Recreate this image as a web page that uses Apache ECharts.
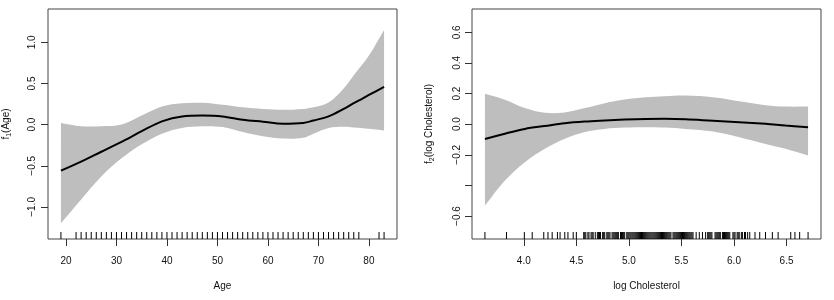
<!DOCTYPE html>
<html><head><meta charset="utf-8">
<script src="https://cdn.jsdelivr.net/npm/echarts@6/dist/echarts.min.js"></script>
<style>html,body{margin:0;padding:0;background:#fff}#c{width:834px;height:300px}</style>
</head><body><div id="c"></div>
<script>
// ---- Panel 1: Age ----
const ageX     = [19, 23, 27, 31, 35, 39, 43, 47, 51, 55, 59, 63, 67, 69, 72, 75, 77, 80, 83];
const ageFit   = [-0.56, -0.45, -0.33, -0.21, -0.08, 0.04, 0.10, 0.11, 0.10, 0.06, 0.035, 0.01, 0.02, 0.05, 0.10, 0.19, 0.26, 0.36, 0.46];
const ageUpper = [0.02, -0.02, -0.02, 0.00, 0.11, 0.22, 0.26, 0.265, 0.24, 0.21, 0.19, 0.18, 0.19, 0.21, 0.27, 0.44, 0.60, 0.84, 1.15];
const ageLower = [-1.20, -0.91, -0.63, -0.41, -0.24, -0.11, -0.04, -0.02, -0.03, -0.09, -0.14, -0.17, -0.16, -0.11, -0.04, -0.025, -0.035, -0.05, -0.07];
const ageRug   = [19, 22, 23, 24, 25, 26, 27, 28, 29, 30, 31, 32, 33, 34, 35, 36, 37, 38, 39, 40,
                  41, 42, 43, 44, 45, 46, 47, 48, 49, 50, 51, 52, 53, 54, 55, 56, 57, 58, 59, 60,
                  61, 62, 63, 64, 65, 66, 67, 68, 69, 70, 71, 72, 73, 74, 75, 76, 77, 78, 82, 83];
const ageXTicks = [20, 30, 40, 50, 60, 70, 80];
const ageYTicks = [-1.0, -0.5, 0.0, 0.5, 1.0];

// ---- Panel 2: log Cholesterol ----
const cholX     = [3.63, 3.82, 4.01, 4.20, 4.39, 4.58, 4.77, 4.96, 5.16, 5.34, 5.54, 5.80, 6.05, 6.30, 6.49, 6.705];
const cholFit   = [-0.097, -0.063, -0.031, -0.012, 0.006, 0.017, 0.024, 0.030, 0.034, 0.035, 0.032, 0.022, 0.013, 0.002, -0.009, -0.02];
const cholUpper = [0.198, 0.160, 0.105, 0.074, 0.076, 0.105, 0.137, 0.161, 0.176, 0.183, 0.187, 0.176, 0.150, 0.124, 0.115, 0.115];
const cholLower = [-0.532, -0.368, -0.248, -0.161, -0.096, -0.052, -0.031, -0.022, -0.02, -0.022, -0.031, -0.048, -0.085, -0.129, -0.161, -0.205];
const cholRug   = [3.63, 3.835, 4.005, 4.08, 4.19, 4.23, 4.27, 4.32, 4.345, 4.39, 4.42, 4.47, 4.50,
  4.57, 4.58, 4.59, 4.61, 4.62, 4.64, 4.65, 4.66, 4.68, 4.70, 4.71, 4.72, 4.73, 4.75, 4.76, 4.77, 4.79,
  4.80, 4.81, 4.82, 4.84, 4.85, 4.86, 4.87, 4.88, 4.89, 4.90, 4.92, 4.93, 4.94, 4.95, 4.96, 4.98, 4.99,
  5.00, 5.01, 5.02, 5.03, 5.04, 5.05, 5.06, 5.07, 5.08, 5.09, 5.10, 5.11, 5.12, 5.13, 5.14, 5.15, 5.16,
  5.17, 5.18, 5.19, 5.20, 5.21, 5.22, 5.23, 5.24, 5.25, 5.26, 5.27, 5.28, 5.29, 5.30, 5.31, 5.32, 5.33,
  5.34, 5.35, 5.36, 5.37, 5.38, 5.39, 5.40, 5.42, 5.43, 5.44, 5.45, 5.46, 5.47, 5.48, 5.49, 5.50, 5.51,
  5.52, 5.53, 5.54, 5.55, 5.56, 5.57, 5.58, 5.59, 5.60, 5.61, 5.64, 5.67, 5.70, 5.73, 5.75, 5.76, 5.77,
  5.78, 5.79, 5.82, 5.83, 5.84, 5.85, 5.86, 5.87, 5.89, 5.90, 5.91, 5.92, 5.93, 5.94, 5.95, 5.96, 5.99,
  6.00, 6.01, 6.03, 6.04, 6.05, 6.07, 6.08, 6.10, 6.11, 6.13, 6.15,
  6.20, 6.245, 6.30, 6.365, 6.42, 6.54, 6.58, 6.625, 6.705];
const cholXTicks = [4.0, 4.5, 5.0, 5.5, 6.0, 6.5];
const cholYTicks = [-0.6, -0.4, -0.2, 0.0, 0.2, 0.4, 0.6];
const cholYTicksUnlabelled = [-0.4];

const FONT = 'Liberation Sans, Arial, Helvetica, sans-serif';
const TXT = '#111';
const SMOOTH = 0.35;
const fmt1 = v => (v < 0 ? '\u2212' : '') + Math.abs(v).toFixed(1);

function xAxisDef(grid, min, max, ticks, name, intLabels) {
  return {
    type: 'value', gridIndex: grid, min, max,
    axisLine: {show: false, onZero: false}, splitLine: {show: false},
    axisTick: {show: true, inside: false, length: 7, customValues: ticks, lineStyle: {color: '#333', width: 1}},
    axisLabel: {customValues: ticks, margin: 17, fontSize: 10, fontFamily: FONT, color: TXT,
      formatter: v => intLabels ? String(Math.round(v)) : fmt1(v)},
    name, nameLocation: 'middle', nameGap: 42,
    nameTextStyle: {fontSize: 10, fontFamily: FONT, color: TXT}
  };
}
function yAxisDef(grid, min, max, ticks, hidden, nameRich, gap, margin) {
  return {
    type: 'value', gridIndex: grid, min, max,
    axisLine: {show: false, onZero: false}, splitLine: {show: false},
    axisTick: {show: true, inside: false, length: 7, customValues: ticks, lineStyle: {color: '#333', width: 1}},
    axisLabel: {customValues: ticks, rotate: 90, margin, fontSize: 10, fontFamily: FONT, color: TXT,
      formatter: v => hidden.some(h => Math.abs(h - v) < 1e-9) ? '' : fmt1(v)},
    name: nameRich, nameLocation: 'middle', nameGap: gap, nameRotate: 90,
    nameTextStyle: {fontSize: 10, fontFamily: FONT, color: TXT,
      rich: {a: {fontSize: 10, fontFamily: FONT, color: TXT, lineHeight: 13},
             s: {fontSize: 7, fontFamily: FONT, color: TXT, verticalAlign: 'bottom', lineHeight: 13}}}
  };
}
// Bezier control points in pixel space (same scheme as a smoothed line)
function bezierSegs(pts) {
  const n = pts.length, cps = [];
  for (let i = 0; i < n; i++) {
    const p = pts[i], pr = pts[Math.max(i - 1, 0)], nx = pts[Math.min(i + 1, n - 1)];
    const vx = (nx[0] - pr[0]) * SMOOTH, vy = (nx[1] - pr[1]) * SMOOTH;
    const d0 = Math.hypot(p[0] - pr[0], p[1] - pr[1]), d1 = Math.hypot(nx[0] - p[0], nx[1] - p[1]);
    const s = (d0 + d1) || 1;
    cps.push({a: [p[0] - vx * d0 / s, p[1] - vy * d0 / s], b: [p[0] + vx * d1 / s, p[1] + vy * d1 / s]});
  }
  let d = '';
  for (let i = 1; i < n; i++) {
    d += ' C' + cps[i - 1].b[0] + ' ' + cps[i - 1].b[1] + ' ' + cps[i].a[0] + ' ' + cps[i].a[1] + ' ' + pts[i][0] + ' ' + pts[i][1];
  }
  return d;
}
function bandSeries(idx, xs, lo, hi) {
  return {type: 'custom', xAxisIndex: idx, yAxisIndex: idx, silent: true, z: 1,
    data: [[xs[0], lo[0]]], encode: {x: 0, y: 1},
    renderItem: (params, api) => {
      const up = xs.map((x, i) => api.coord([x, hi[i]]));
      const dn = xs.map((x, i) => api.coord([x, lo[i]])).reverse();
      let d = 'M' + up[0][0] + ' ' + up[0][1] + bezierSegs(up);
      d += ' L' + dn[0][0] + ' ' + dn[0][1] + bezierSegs(dn) + ' Z';
      return {type: 'path', shape: {pathData: d}, style: {fill: '#bebebe', stroke: null}};
    }};
}
function fitSeries(idx, xs, ys) {
  return {type: 'line', xAxisIndex: idx, yAxisIndex: idx, data: xs.map((x, i) => [x, ys[i]]),
    smooth: SMOOTH, showSymbol: false, silent: true, lineStyle: {color: '#000', width: 2}, z: 3};
}
function rugSeries(idx, vals) {
  return {type: 'custom', xAxisIndex: idx, yAxisIndex: idx, silent: true, z: 4,
    data: vals.map(v => [v, 0]), encode: {x: 0, y: 1},
    renderItem: (params, api) => {
      const cs = params.coordSys;
      const x = api.coord([api.value(0), 0])[0];
      const yb = cs.y + cs.height;
      return {type: 'line', shape: {x1: x, y1: yb, x2: x, y2: yb - 7}, style: {stroke: '#000', lineWidth: 1}};
    }};
}

const chart = echarts.init(document.getElementById('c'), null, {renderer: 'canvas'});
chart.setOption({
  animation: false,
  backgroundColor: '#fff',
  grid: [
    {left: 48, top: 9, width: 349, height: 230, show: true, borderColor: '#444', borderWidth: 1, backgroundColor: 'transparent', outerBoundsMode: 'none', containLabel: false},
    {left: 472, top: 9, width: 349, height: 230, show: true, borderColor: '#444', borderWidth: 1, backgroundColor: 'transparent', outerBoundsMode: 'none', containLabel: false}
  ],
  xAxis: [
    xAxisDef(0, 16.44, 85.56, ageXTicks, 'Age', true),
    xAxisDef(1, 3.507, 6.828, cholXTicks, 'log Cholesterol', false)
  ],
  yAxis: [
    yAxisDef(0, -1.39, 1.405, ageYTicks, [], '{a|f}{s|1}{a|(Age)}', 35, 11),
    yAxisDef(1, -0.75, 0.752, cholYTicks, cholYTicksUnlabelled, '{a|f}{s|2}{a|(log Cholesterol)}', 36, 10)
  ],
  series: [
    bandSeries(0, ageX, ageLower, ageUpper),
    fitSeries(0, ageX, ageFit),
    rugSeries(0, ageRug),
    bandSeries(1, cholX, cholLower, cholUpper),
    fitSeries(1, cholX, cholFit),
    rugSeries(1, cholRug)
  ]
});
</script>
</body></html>
